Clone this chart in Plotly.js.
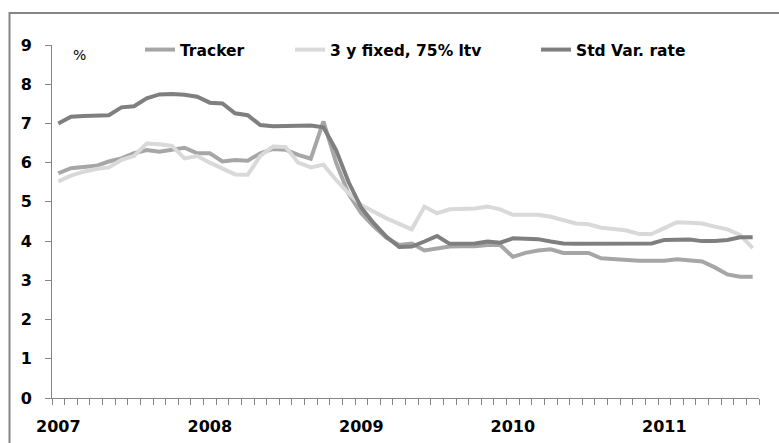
<!DOCTYPE html>
<html>
<head>
<meta charset="utf-8">
<script src="https://cdn.plot.ly/plotly-3.0.1.min.js"></script>
<style>
html, body { margin: 0; padding: 0; background: #ffffff; }
#chart { width: 779px; height: 443px; }
</style>
</head>
<body>
<div id="chart"></div>
<script>
// Monthly observations, Jan 2007 .. Aug 2011 (56 months)
const months = [];
for (let i = 0; i < 56; i++) months.push(i);

const yearTickPositions = [0, 12, 24, 36, 48];
const yearTickLabels = ['2007', '2008', '2009', '2010', '2011'];

const tracker = [
  5.73, 5.86, 5.89, 5.92, 6.03, 6.11, 6.24, 6.32, 6.28, 6.32, 6.38, 6.24,
  6.24, 6.03, 6.07, 6.05, 6.24, 6.35, 6.33, 6.20, 6.10, 7.05, 6.00, 5.20,
  4.71, 4.37, 4.08, 3.90, 3.94, 3.76, 3.82, 3.86, 3.87, 3.87, 3.90, 3.90,
  3.60, 3.70, 3.76, 3.79, 3.70, 3.70, 3.70, 3.56, 3.54, 3.50, 3.50, 3.50,
  3.50, 3.54, 3.50, 3.48, 3.33, 3.15, 3.09, 3.09
];

const fixed3y = [
  5.52, 5.67, 5.77, 5.84, 5.88, 6.07, 6.17, 6.49, 6.47, 6.43, 6.11, 6.17,
  6.00, 5.86, 5.70, 5.69, 6.17, 6.41, 6.40, 6.00, 5.88, 5.95, 5.56, 5.22,
  4.92, 4.75, 4.58, 4.44, 4.30, 4.88, 4.71, 4.81, 4.83, 4.83, 4.88, 4.81,
  4.67, 4.67, 4.67, 4.62, 4.54, 4.45, 4.43, 4.34, 4.31, 4.27, 4.18, 4.18,
  4.33, 4.48, 4.47, 4.45, 4.37, 4.30, 4.16, 3.82
];

const stdVar = [
  7.00, 7.17, 7.19, 7.20, 7.21, 7.41, 7.44, 7.64, 7.74, 7.75, 7.73, 7.68,
  7.53, 7.51, 7.26, 7.21, 6.96, 6.93, 6.93, 6.93, 6.95, 6.90, 6.32, 5.50,
  4.85, 4.45, 4.11, 3.85, 3.86, 3.99, 4.13, 3.93, 3.93, 3.94, 3.99, 3.96,
  4.07, 4.06, 4.05, 3.99, 3.94, 3.93, 3.93, 3.94, 3.94, 3.94, 3.94, 3.94,
  4.03, 4.04, 4.04, 4.00, 4.00, 4.03, 4.10, 4.10
];

const seriesNames = ['Tracker', '3 y fixed, 75% ltv', 'Std Var. rate'];

const axisGrey = '#868686';
const boldFont = { family: 'DejaVu Sans', size: 16, color: '#000000', weight: 'bold' };

const traces = [
  { x: months, y: tracker, name: seriesNames[0], type: 'scatter', mode: 'lines',
    line: { color: '#a6a6a6', width: 4 }, legendwidth: 105 },
  { x: months, y: fixed3y, name: seriesNames[1], type: 'scatter', mode: 'lines',
    line: { color: '#d9d9d9', width: 4 }, legendwidth: 201 },
  { x: months, y: stdVar, name: seriesNames[2], type: 'scatter', mode: 'lines',
    line: { color: '#7f7f7f', width: 4 } }
];

const layout = {
  width: 779, height: 443,
  margin: { l: 52, r: 20, t: 45, b: 45, pad: 0, autoexpand: false },
  paper_bgcolor: '#ffffff', plot_bgcolor: '#ffffff',
  font: { family: 'DejaVu Sans', color: '#000000' },
  showlegend: true,
  hovermode: false,
  legend: {
    orientation: 'h', xref: 'container', yref: 'container',
    x: 140 / 779, y: 1 - 50 / 443, xanchor: 'left', yanchor: 'middle',
    font: { family: 'DejaVu Sans', size: 15.5, color: '#000000', weight: 'bold' },
    bgcolor: 'rgba(0,0,0,0)', borderwidth: 0, traceorder: 'normal'
  },
  xaxis: {
    range: [-0.5, 55.5], fixedrange: true, automargin: false,
    tickmode: 'array', tickvals: yearTickPositions, ticktext: yearTickLabels,
    ticks: 'outside', ticklen: 0, tickcolor: axisGrey,
    ticklabelstandoff: 14,
    tickfont: boldFont,
    showline: true, linecolor: axisGrey, linewidth: 1,
    showgrid: false, zeroline: false,
    minor: { tickmode: 'linear', tick0: -0.5, dtick: 1, ticks: 'outside', ticklen: 6,
             tickcolor: axisGrey, tickwidth: 1, showgrid: false }
  },
  yaxis: {
    range: [0, 9], fixedrange: true, automargin: false,
    tickmode: 'linear', tick0: 0, dtick: 1,
    ticks: 'outside', ticklen: 6, tickcolor: axisGrey, tickwidth: 1,
    ticklabelstandoff: 10,
    tickfont: boldFont,
    showline: true, linecolor: axisGrey, linewidth: 1,
    showgrid: false, zeroline: false
  },
  annotations: [
    { text: '%', xref: 'x', yref: 'y', x: 1.64, y: 8.75, showarrow: false,
      font: { family: 'DejaVu Sans', size: 14, color: '#000000' } }
  ],
  shapes: [
    { type: 'rect', xref: 'paper', yref: 'paper', layer: 'below',
      x0: (9.5 - 52) / 707, x1: 1.2, y0: -0.3, y1: (398 - 13) / 353,
      line: { color: axisGrey, width: 2 }, fillcolor: 'rgba(0,0,0,0)' }
  ]
};

Plotly.newPlot('chart', traces, layout, { displayModeBar: false, staticPlot: true });
</script>
</body>
</html>
